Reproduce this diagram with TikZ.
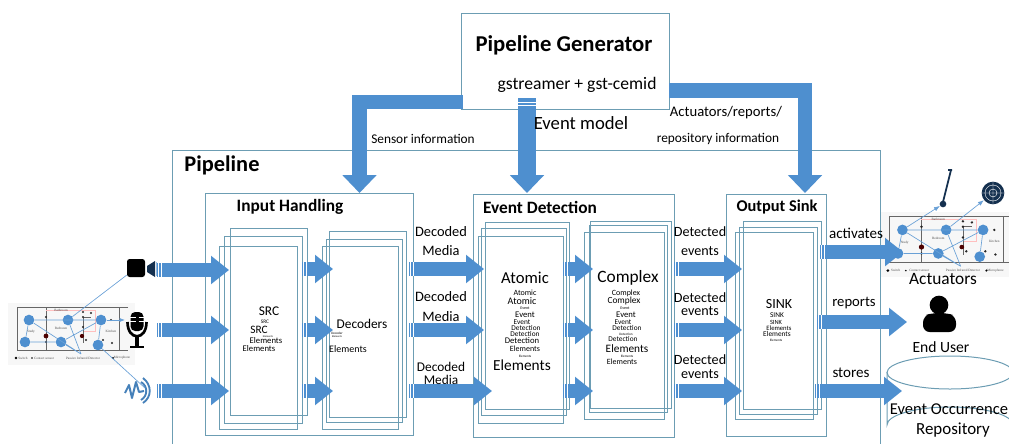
\documentclass[tikz,border=0pt]{standalone}
\usepackage{fontspec}
\setmainfont{Carlito}
\newfontfamily\planfont{Liberation Serif}
\usetikzlibrary{arrows.meta,fit,calc}
\definecolor{flowblue}{HTML}{4E8FCF}
\definecolor{boxline}{HTML}{6C9DB3}
\definecolor{planwall}{HTML}{666666}
\definecolor{navy}{HTML}{14304F}
\newcommand\fs[1]{\fontsize{#1}{#1}\selectfont}
\tikzset{
 boxn/.style={draw=boxline,line width=0.75pt,inner sep=0pt},
 flow/.style={draw=flowblue,line width=9.8pt,-{Triangle[length=13.5pt,width=20.5pt]}},
 bigflow/.style={draw=flowblue,line width=11.2pt,-{Triangle[length=13.5pt,width=25pt]},rounded corners=0pt},
 stripe/.style={draw=white,line width=0.55pt},
 lbl/.style={inner sep=0pt,text=black},
 planedge/.style={draw=flowblue!85!white,line width=0.5pt},
 plancirc/.style={circle,fill=flowblue,inner sep=0pt,minimum size=8pt},
 planlbl/.style={inner sep=0pt,text=black!70,font=\planfont\fontsize{2.5}{2.5}\selectfont},
}
\newcommand\bx[5]{\node[boxn,fit={(#2,#3)(#4,#5)}] (#1) {};}
\newcommand\lb[5]{\node[lbl] (#1) at (#2,#3) {\fs{#4}#5};}
\newcommand\lbb[5]{\node[lbl,font=\bfseries] (#1) at (#2,#3) {\fs{#4}#5};}
\newcommand\hf[4]{%
 \coordinate (#1s) at (#2,#4);\coordinate (#1t) at (#3,#4);
 \draw[flow] (#1s) -- (#1t);
 \draw[stripe] ({#2+1.7},{#4-7}) -- ({#2+1.7},{#4+7});
 \draw[stripe] ({#2+4},{#4-7}) -- ({#2+4},{#4+7});}
\newcommand\plan[7]{%
 \begin{scope}[shift={(#2,#3)},xscale=#4,yscale=#5]
 \draw[planwall,line width=0.7pt] (111,0) -- (0,0) -- (0,43) -- (111,43);
 \draw[planwall,line width=0.7pt] (102,0) -- (102,43);
 \draw[planwall,line width=0.5pt] (29,0) -- (29,43);
 \draw[red!25!white,line width=0.3pt] (29,3) -- (78,3) -- (78,24) -- (66,24);
 \draw[planwall,line width=0.5pt] (66,10) -- (66,36) (66,10) -- (74,10);
 \foreach \p in {(29,10),(29,35),(66,10),(66,20),(69,33),(74,6),(66,5),(94,13),(86,33),(95,36)}
   \fill[black!85] \p circle (0.9pt);
 \fill[black!70!red] (29,29) circle (1.8pt);
 \fill[black!70!red] (65,29) circle (1.6pt);
 \node[plancirc] (#1a) at (12,13) {};
 \node[plancirc] (#1b) at (51,13) {};
 \node[plancirc] (#1c) at (84,13) {};
 \node[plancirc] (#1d) at (8,35) {};
 \node[plancirc] (#1e) at (44,35) {};
 \node[plancirc] (#1f) at (81,38) {};
 \coordinate (#1m) at (64,47);
 \draw[planedge] (#1a) -- (#1c) (#1a) -- (#1d) (#1d) -- (#1e) (#1e) -- (#1c) (#1c) -- (#1f) (#1a) -- (#1m) (#1e) -- (#1m) (#1b) -- (#1m);
 \node[planlbl] (#1l1) at (44,3) {Bathroom};
 \node[planlbl] (#1l2) at (14,25) {Study};
 \node[planlbl] (#1l3) at (44,21) {Bedroom};
 \node[planlbl] (#1l4) at (94,24) {Kitchen};
 \fill[black] (-1,51) circle (1pt);
 \fill[black] (15,51) circle (.6pt);
 \fill[black] (#7,51) circle (.8pt);
 \node[planlbl] (#1l5) at (6,51) {Switch};
 \node[planlbl] (#1l6) at (27,51) {Contact sensor};
 \node[planlbl] (#1l7) at (66,51) {Passive Infrared Detector};
 \node[planlbl] (#1l8) at (#6,51) {Microphone};
 \end{scope}}
\begin{document}
\begin{tikzpicture}[x=0.75pt,y=-0.75pt]
\useasboundingbox (0,0) rectangle (1009,443);
% containers
\bx{generator}{461}{13}{669}{109}
\bx{pipeline}{172}{150}{880}{470}
\bx{inputh}{205}{193}{413}{435}
\bx{eventd}{473}{194}{674}{437}
\bx{outsink}{726}{194}{826}{436}
\bx{srcA}{230}{228}{307}{415}
\bx{srcB}{224}{236}{302}{423}
\bx{srcC}{219}{246}{297}{429}
\bx{decA}{329}{231}{406}{417}
\bx{decB}{326}{239}{402}{422}
\bx{decC}{322}{246}{398}{429}
\bx{atoA}{485}{222}{569}{409}
\bx{atoB}{481}{228}{566}{415}
\bx{atoC}{478}{236}{563}{423}
\bx{comA}{590}{221}{671}{408}
\bx{comB}{589}{225}{667}{412}
\bx{comC}{584}{232}{664}{419}
\bx{sinkA}{743}{221}{821}{409}
\bx{sinkB}{739}{227}{817}{414}
\bx{sinkC}{735}{232}{813}{419}
% plans
\fill[black!3] (8,303) rectangle (135,365);
\fill[black!3] (881,212) rectangle (1009,277);
\plan{L}{17}{307}{1}{1}{105}{96}
\plan{R}{889}{216}{1.12}{1.07}{95}{87}
% left icons
\node[fill=black,rounded corners=2pt,inner sep=0pt,minimum size=13.5pt] (speaker) at (136,268) {};
\fill[navy] (147,266) -- (155,261) -- (155,277) -- (147,272) -- cycle;
\draw[flowblue!60!white,line width=.5pt] (156,262) -- (156,276);
\fill[black,rounded corners=3.5pt] (130.5,312) rectangle (143.5,331);
\draw[white,line width=.5pt] (130,317) -- (135.5,317) (138.5,317) -- (144,317) (130,321) -- (135.5,321) (138.5,321) -- (144,321);
\draw[black,line width=2pt] (127.5,322) .. controls (127.5,341) and (146.5,341) .. (146.5,322);
\draw[black,line width=2.4pt] (137,336) -- (137,346);
\draw[black,line width=1.8pt] (130,347) -- (144,347);
\coordinate (wavec) at (145,388);
\draw[flowblue!90!black,line width=1.5pt,line join=round] (125,393) -- (129,385) -- (132,398) -- (136,382) -- (139,392) -- (144,391);
\draw[flowblue!90!black,line width=1.4pt] (141,382) .. controls (148,386) and (148,396) .. (141,400);
\draw[flowblue!90!black,line width=1.4pt] (143,378) .. controls (152,385) and (152,397) .. (143,403);
\draw[planedge] (speaker) -- (Lb);
\draw[planedge,-{Latex[length=4pt]}] (Lc) -- (125,320);
\draw[planedge] (Lf) -- (wavec);
% right icons
\draw[navy,line width=1.3pt] (952,170) -- (948,170) (951,170) -- (943,202);
\node[circle,fill=navy,inner sep=0pt,minimum size=5pt] (knob) at (943,204) {};
\node[circle,fill=navy,inner sep=0pt,minimum size=17pt] (dish) at (993,193) {};
\draw[white,line width=.3pt] (dish.center) circle (6pt) (dish.center) circle (3pt) (982,193) -- (1004,193) (993,182) -- (993,204);
\draw[planedge,-{Latex[length=4.5pt]}] (Ra) -- (knob);
\draw[planedge,-{Latex[length=4.5pt]}] (Rb) -- (dish);
% user
\node[circle,fill=black,inner sep=0pt,minimum size=14pt] (userhead) at (939,305) {};
\fill[black,rounded corners=5pt] (923,332) -- (923,316) -- (932,313) -- (947,313) -- (956,316) -- (956,332) -- cycle;
% repository
\draw[boxline,line width=.75pt] (887,372) -- (887,425) arc[start angle=180,end angle=360,x radius=63,y radius=18] -- (1013,372);
\draw[boxline,line width=.75pt] (950,372.5) ellipse [x radius=63,y radius=16.5];
% flows
\hf{ia}{157}{229}{270}\hf{ib}{157}{229}{330}\hf{ic}{157}{229}{391}
\hf{sa}{302}{333}{269}\hf{sb}{302}{333}{330}\hf{sc}{302}{333}{391}
\hf{da}{409}{484}{269}\hf{db}{409}{484}{330}\hf{dc}{409}{492}{391}
\hf{aa}{563}{593}{269}\hf{ab}{563}{593}{330}\hf{ac}{563}{593}{391}
\hf{ea}{674}{742}{269}\hf{eb}{674}{742}{330}\hf{ec}{674}{742}{391}
\hf{oa}{820}{903}{252}\hf{ob}{817}{907}{322}\hf{oc}{815}{902}{391}
\coordinate (gl) at (463,102);\coordinate (gli) at (359.5,102);\coordinate (glt) at (359.5,193);
\coordinate (gm) at (527,98);\coordinate (gmt) at (527,193);
\coordinate (gr) at (669,90.5);\coordinate (gri) at (805,90.5);\coordinate (grt) at (805,193);
\draw[bigflow] (gl) -- (gli) -- (glt);
\draw[bigflow] (gr) -- (gri) -- (grt);
\draw[bigflow,line width=13pt] (gm) -- (gmt);
\draw[stripe] (518,102) -- (536,102) (518,105) -- (536,105);
% text
\lbb{tgen}{564}{45}{17}{Pipeline Generator}
\lb{tgst}{577}{85}{13.2}{gstreamer + gst-cemid}
\lb{tevm}{581}{123}{14}{Event model}
\lb{tsen}{423}{139}{10}{Sensor information}
\lb{tact}{726}{113}{11}{Actuators/reports/}
\lb{trep}{718}{139}{10}{repository information}
\lbb{tpip}{222}{165}{16.8}{Pipeline}
\lbb{tinp}{290}{207}{13}{Input Handling}
\lbb{tevd}{540}{207}{13}{Event Detection}
\lbb{tout}{777}{207}{12.3}{Output Sink}
\lb{d1a}{441}{232}{10.8}{Decoded}\lb{d1b}{441}{251}{10.8}{Media}
\lb{d2a}{441}{297}{10.8}{Decoded}\lb{d2b}{441}{317}{10.8}{Media}
\lb{d3a}{441}{367}{10}{Decoded}\lb{d3b}{441}{380}{10}{Media}
\lb{e1a}{700}{232}{10.6}{Detected}\lb{e1b}{700}{251}{10.6}{events}
\lb{e2a}{700}{298}{10.6}{Detected}\lb{e2b}{700}{311}{10.6}{events}
\lb{e3a}{700}{360}{10.6}{Detected}\lb{e3b}{700}{374}{10.6}{events}
\lb{tacv}{856}{233}{11.3}{activates}
\lb{trpt}{854}{303}{11}{reports}
\lb{tsto}{851}{373}{11.3}{stores}
\lb{tacu}{943}{279}{13}{Actuators}
\lb{tend}{941}{347}{11.7}{End User}
\lb{teo}{949}{409}{12.4}{Event Occurrence}
\lb{trp}{953}{430}{12.7}{Repository}
% SRC
\lb{s1}{269}{311}{10}{SRC}
\lb{s2}{265}{322}{4}{SRC}
\lb{s3}{259}{330}{8.5}{SRC}
\lb{s4}{268}{337}{2}{Elements}
\lb{s5}{266}{341}{6.5}{Elements}
\lb{s6}{259}{349}{6.5}{Elements}
% Decoders
\lb{c1}{362}{324}{10}{Decoders}
\lb{c2}{337}{333}{2.5}{Decoder}
\lb{c3}{337}{337}{2}{Elements}
\lb{c4}{348}{349}{7.5}{Elements}
% Atomic
\lb{a1}{525}{278}{12.5}{Atomic}
\lb{a2}{525}{293}{6}{Atomic}
\lb{a3}{522}{301}{7.5}{Atomic}
\lb{a4}{525}{308}{3}{Event}
\lb{a5}{525}{315}{6.5}{Event}
\lb{a6}{522}{322}{5.5}{Event}
\lb{a7}{526}{328}{5.5}{Detection}
\lb{a8}{525}{334}{5.5}{Detection}
\lb{a9}{522}{341}{6.5}{Detection}
\lb{a10}{525}{349}{6}{Elements}
\lb{a11}{525}{356}{2.5}{Elements}
\lb{a12}{522}{365}{11.5}{Elements}
% Complex
\lb{m1}{628}{278}{13}{Complex}
\lb{m2}{626}{293}{6}{Complex}
\lb{m3}{624}{301}{7}{Complex}
\lb{m4}{625}{308}{3}{Event}
\lb{m5}{626}{315}{6.5}{Event}
\lb{m6}{623}{322}{5.5}{Event}
\lb{m7}{627}{328}{5.5}{Detection}
\lb{m8}{626}{334}{2.5}{Detection}
\lb{m9}{623}{339}{5.5}{Detection}
\lb{m10}{627}{349}{8.5}{Elements}
\lb{m11}{627}{356}{2.5}{Elements}
\lb{m12}{622}{362}{6}{Elements}
% Sink
\lb{k1}{779}{304}{10.5}{SINK}
\lb{k2}{777}{315}{5.5}{SINK}
\lb{k3}{776}{322}{4.8}{SINK}
\lb{k4}{779}{328}{5}{Elements}
\lb{k5}{777}{334}{5.5}{Elements}
\lb{k6}{776}{340}{2.5}{Elements}
\end{tikzpicture}
\end{document}
